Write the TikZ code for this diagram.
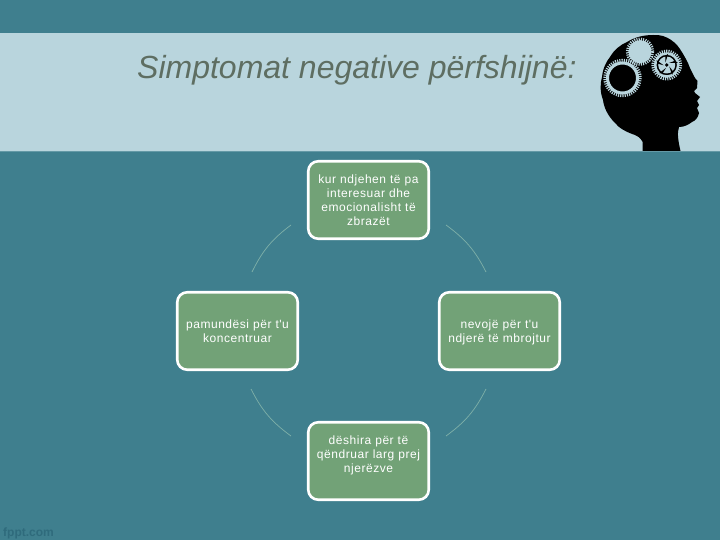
\documentclass[tikz,border=0pt]{standalone}
\usepackage{fontspec}
\setmainfont{Liberation Sans}
\newfontfamily\spaced[LetterSpace=4.5]{Liberation Sans}
\definecolor{bgteal}{HTML}{3F7F8E}
\definecolor{band}{HTML}{B9D5DD}
\definecolor{boxgreen}{HTML}{72A277}
\definecolor{titlegray}{HTML}{5E6E62}
\definecolor{arcline}{HTML}{7FB0A8}
\definecolor{logo}{HTML}{2F6B7C}
\tikzset{
  x=1pt,y=-1pt,
  bubble/.style={draw=white,line width=2.6pt,fill=boxgreen,rounded corners=10pt,minimum width=120.5pt,minimum height=77.5pt,inner sep=0pt},
  bubbletext/.style={text=white,font=\spaced\fontsize{12}{14}\selectfont,align=center,text width=112pt,inner sep=0pt},
  link/.style={draw=arcline,line width=0.7pt},
  cog/.style={draw=band,line width=3.4pt,dash pattern=on 1.1pt off 1.1pt}
}
\begin{document}
\begin{tikzpicture}
\useasboundingbox (0,0) rectangle (720,540);
\fill[bgteal] (0,0) rectangle (720,540);
\fill[band] (0,33) rectangle (720,151);
\draw[color=bgteal!70!band,line width=0.8pt] (0,151) -- (720,151);
\node[text=titlegray,font=\itshape\fontsize{32}{36}\selectfont,anchor=base west,inner sep=0pt] (title) at (137,79) {Simptomat negative përfshijnë:};
% head
\fill[black] (642.7,151) -- (642.7,142)
  .. controls (640,137) and (637,136) .. (635,135)
  .. controls (626,132) and (619,128) .. (615,123)
  .. controls (608,116) and (604,108) .. (603,100)
  .. controls (600,92) and (600,84) .. (602,77)
  .. controls (603,68) and (606,62) .. (610,57)
  .. controls (614,50) and (620,45) .. (627,42)
  .. controls (635,37) and (644,35) .. (653,35)
  .. controls (657,35) and (660,35) .. (663,36)
  .. controls (669,38) and (673,41) .. (677,45)
  .. controls (681,50) and (685,57) .. (688,63)
  .. controls (690,69) and (693,74) .. (695,78)
  -- (697.5,81) -- (697,88) -- (694,91) -- (695,93) -- (700,97) -- (697,101) -- (699,105) -- (697,108) -- (699,113)
  .. controls (698,118) and (695,121) .. (692,122)
  .. controls (688,125) and (684,127) .. (679,127)
  .. controls (677,133) and (678,140) .. (680.5,151) -- cycle;
% large cog
\draw[cog] (622.5,78) circle (17.5);
\draw[band,line width=3pt] (622.5,78) circle (15);
% medium cog
\draw[cog] (666.7,65) circle (13.7);
\draw[band,line width=2.5pt] (666.7,65) circle (11.5);
\fill[band] (666.7,65) circle (8.5);
\fill[black] (666.7,65) circle (1.8);
\foreach \a in {30,102,174,246,318}{\fill[black] (666.7,65) ++(\a:3) -- ++(\a+22:6.5) -- ++(\a+80:3.5) -- cycle;}
% top cog
\draw[cog] (640,51.7) circle (12.5);
\fill[band] (640,51.7) circle (11.5);
% boxes
\node[bubble] (top) at (368.5,200) {};
\node[bubble] (left) at (237.5,331) {};
\node[bubble] (right) at (499.5,331) {};
\node[bubble] (bottom) at (368.5,461) {};
\node[bubbletext,anchor=north] (toptext) at (368.5,175) {kur ndjehen të pa\\ interesuar dhe\\ emocionalisht të\\ zbrazët};
\node[bubbletext,anchor=north] (lefttext) at (237.5,320) {pamundësi për t'u\\ koncentruar};
\node[bubbletext,anchor=north] (righttext) at (499.5,320) {nevojë për t'u\\ ndjerë të mbrojtur};
\node[bubbletext,anchor=north] (bottomtext) at (368.5,436) {dëshira për të\\ qëndruar larg prej\\ njerëzve};
% connectors
\coordinate (a1) at (291,225); \coordinate (a2) at (252,272);
\coordinate (b1) at (446,225); \coordinate (b2) at (486,272);
\coordinate (c1) at (486,389); \coordinate (c2) at (446,436);
\coordinate (d1) at (251,389); \coordinate (d2) at (291,436);
\draw[link] (a1) to[bend right=13.5] (a2);
\draw[link] (b1) to[bend left=13.5] (b2);
\draw[link] (c1) to[bend left=13.5] (c2);
\draw[link] (d1) to[bend right=13.5] (d2);
\node[text=logo,font=\bfseries\fontsize{12}{14}\selectfont,anchor=base west,inner sep=0pt] (logo) at (3,536) {fppt.com};
\end{tikzpicture}
\end{document}
